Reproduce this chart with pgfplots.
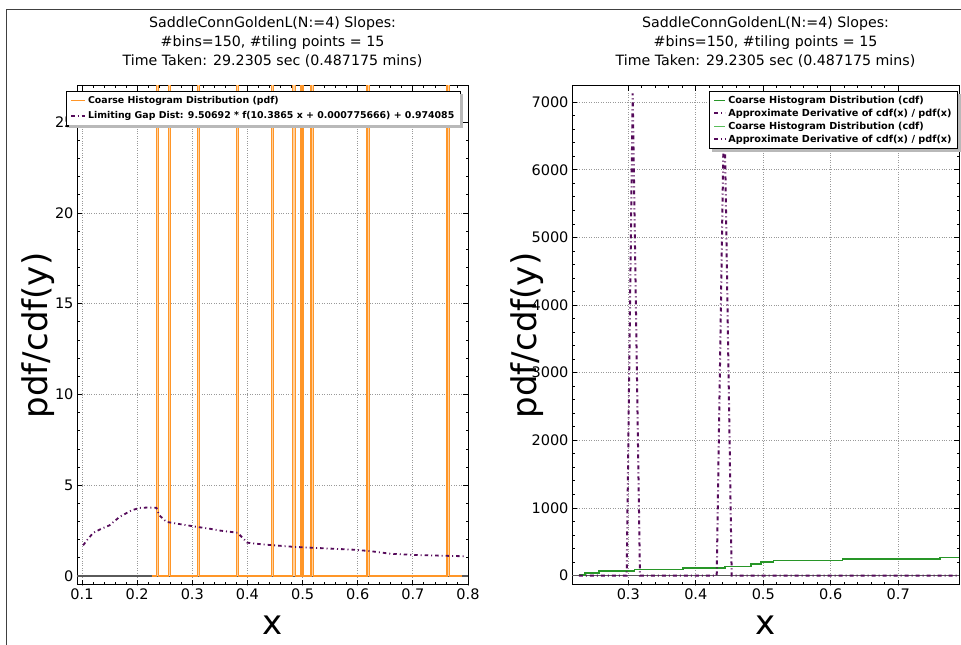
\documentclass[border=0pt]{standalone}
\usepackage{fontspec}
\setmainfont{DejaVu Sans}
\usepackage{pgfplots}
\pgfplotsset{compat=1.18}
\definecolor{myorange}{RGB}{255,150,40}
\definecolor{mypurple}{RGB}{85,10,90}
\definecolor{mygreen}{RGB}{40,150,40}
\definecolor{mygreen2}{RGB}{90,190,90}
\definecolor{zeroline}{RGB}{90,90,90}
\pgfplotsset{
 mpl/.style={
  scale only axis,
  /pgf/number format/assume math mode=true,
  /pgf/number format/1000 sep={},
  scaled ticks=false,
  tick align=inside,
  xtick pos=both, ytick pos=both,
  xticklabel pos=bottom, yticklabel pos=left,
  minor x tick num=4, minor y tick num=4,
  major tick length=5pt, minor tick length=2.5pt,
  tick style={black, line width=0.8pt},
  grid=major,
  major grid style={dotted, gray!80, line width=0.8pt},
  axis line style={line width=1pt},
  ticklabel style={font=\fontsize{14.5}{17}\selectfont},
  title style={font=\fontsize{14.2}{19}\selectfont, align=center, yshift=9pt},
  xlabel style={font=\fontsize{34}{40}\selectfont},
  ylabel style={font=\fontsize{34}{40}\selectfont},
  legend cell align=left,
 }
}
\begin{document}
\begin{tikzpicture}
\useasboundingbox (0pt,0pt) rectangle (961pt,645pt);
\draw[black!75, line width=1pt] (6pt,635pt) rectangle (1000pt,-50pt);
\begin{axis}[mpl, at={(77pt,60pt)}, anchor=south west, width=391pt, height=499pt,
 xmin=0.0909, xmax=0.8, ymin=-0.5, ymax=27,
 xtick={0.1,0.2,0.3,0.4,0.5,0.6,0.7,0.8}, ytick={0,5,10,15,20,25},
 xticklabels={0.1,0.2,0.3,0.4,0.5,0.6,0.7,0.8},
 title={SaddleConnGoldenL(N:=4) Slopes:\\\#bins=150, \#tiling points = 15\\Time Taken: 29.2305 sec (0.487175 mins)},
 xlabel={x}, ylabel={pdf/cdf(y)},
 xlabel style={at={(axis description cs:0.5,-0.08)}, anchor=center},
 ylabel style={at={(axis description cs:-0.0997,0.5)}, anchor=center},
 legend image code/.code={\draw[#1] (0pt,0pt) -- (14pt,0pt);},
 legend style={name=legL, at={(axis description cs:-0.028,0.99)}, anchor=north west,
   font=\bfseries\fontsize{9.4}{12}\selectfont, draw=black,
   fill=white, row sep=2.5pt, inner ysep=3pt, inner xsep=4pt},
]
\addplot[zeroline, line width=1.5pt, forget plot] coordinates {(0.0909,0)(0.8,0)};
\addplot[myorange, line width=1.3pt, fill=myorange!45] coordinates {
(0.2266,0)(0.2356,0)(0.2356,28)(0.2385,28)(0.2385,0)
(0.2567,0)(0.2567,28)(0.2610,28)(0.2610,0)
(0.3093,0)(0.3093,28)(0.3130,28)(0.3130,0)
(0.3807,0)(0.3807,28)(0.3843,28)(0.3843,0)
(0.4436,0)(0.4436,28)(0.4472,28)(0.4472,0)
(0.4817,0)(0.4817,28)(0.4866,28)(0.4866,0)
(0.4969,0)(0.4969,28)(0.5010,28)(0.5010,0)
(0.5150,0)(0.5150,28)(0.5192,28)(0.5192,0)
(0.6170,0)(0.6170,28)(0.6210,28)(0.6210,0)
(0.7620,0)(0.7620,28)(0.7660,28)(0.7660,0)(0.7900,0)};
\addlegendentry{Coarse Histogram Distribution (pdf)}
\addplot[mypurple, line width=1.8pt, dash pattern=on 3.5pt off 3pt on 1pt off 3pt] coordinates {
(0.102,1.69)(0.11,2.0)(0.12,2.37)(0.135,2.6)(0.15,2.79)(0.168,3.25)(0.19,3.62)(0.205,3.75)
(0.22,3.77)(0.235,3.75)(0.24,3.35)(0.253,2.98)(0.27,2.89)(0.309,2.70)(0.33,2.61)(0.35,2.5)
(0.382,2.38)(0.40,1.83)(0.43,1.73)(0.485,1.60)(0.52,1.55)(0.59,1.45)(0.622,1.37)(0.66,1.22)
(0.707,1.15)(0.797,1.08)};
\addlegendentry{Limiting Gap Dist: 9.50692 * f(10.3865 x + 0.000775666) + 0.974085}
\end{axis}
\fill[gray!55] ([shift={(3pt,-3pt)}]legL.south west) rectangle ([shift={(3pt,0pt)}]legL.south east);
\fill[gray!55] (legL.south east) rectangle ([shift={(3pt,-3pt)}]legL.north east);
\begin{axis}[mpl, at={(572pt,60pt)}, anchor=south west, width=387pt, height=499pt,
 xmin=0.2166, xmax=0.790, ymin=-140, ymax=7240,
 xtick={0.3,0.4,0.5,0.6,0.7}, ytick={0,1000,2000,3000,4000,5000,6000,7000},
 xticklabels={0.3,0.4,0.5,0.6,0.7},
 title={SaddleConnGoldenL(N:=4) Slopes:\\\#bins=150, \#tiling points = 15\\Time Taken: 29.2305 sec (0.487175 mins)},
 xlabel={x}, ylabel={pdf/cdf(y)},
 xlabel style={at={(axis description cs:0.5,-0.08)}, anchor=center},
 ylabel style={at={(axis description cs:-0.116,0.5)}, anchor=center},
 legend image code/.code={\draw[#1] (0pt,0pt) -- (11pt,0pt);},
 legend style={name=legR, at={(axis description cs:0.997,0.99)}, anchor=north east,
   font=\bfseries\fontsize{9.7}{11}\selectfont, draw=black,
   fill=white, row sep=0pt, inner ysep=3pt, inner xsep=4pt},
]
\addplot[zeroline, line width=1.5pt, forget plot] coordinates {(0.2166,0)(0.79,0)};
\addplot[mygreen, line width=1.5pt, const plot mark left] coordinates {
(0.2266,8)(0.2356,34)(0.2567,64)(0.3093,89)(0.3807,108)(0.4436,133)(0.4817,172)(0.4969,202)
(0.5150,222)(0.6170,246)(0.7620,266)(0.7900,266)};
\addlegendentry{Coarse Histogram Distribution (cdf)}
\addplot[mypurple, line width=2pt, dash pattern=on 4pt off 3pt on 1pt off 3pt] coordinates {
(0.2266,0)(0.2976,0)(0.3065,7130)(0.3173,0)(0.4310,0)(0.4421,7100)(0.4532,0)(0.7900,0)};
\addlegendentry{Approximate Derivative of cdf(x) / pdf(x)}
\addlegendimage{mygreen2, line width=1.5pt}
\addlegendentry{Coarse Histogram Distribution (cdf)}
\addlegendimage{mypurple, line width=2pt, dash pattern=on 3.5pt off 3pt on 1pt off 3pt}
\addlegendentry{Approximate Derivative of cdf(x) / pdf(x)}
\end{axis}
\fill[gray!55] ([shift={(3pt,-3pt)}]legR.south west) rectangle ([shift={(3pt,0pt)}]legR.south east);
\fill[gray!55] (legR.south east) rectangle ([shift={(3pt,-3pt)}]legR.north east);
\end{tikzpicture}
\end{document}
